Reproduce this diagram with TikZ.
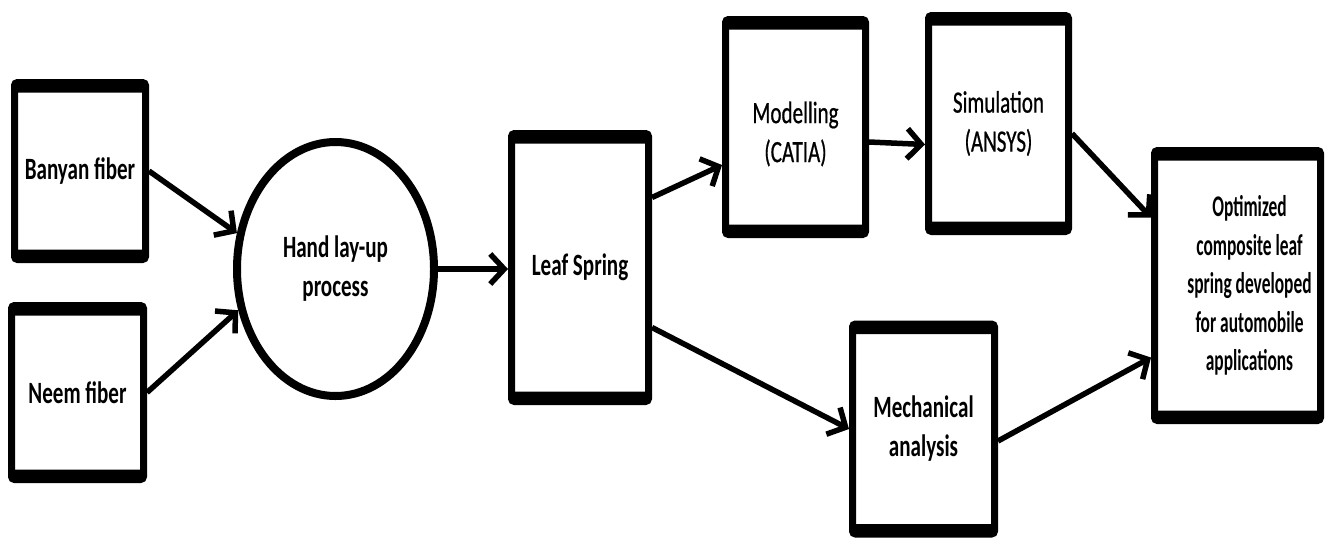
\documentclass[tikz,border=0pt]{standalone}
\usepackage{fontspec}
\setmainfont{Carlito}[FakeStretch=0.68]
\newfontfamily\medfont{Carlito}[FakeStretch=0.68, FakeBold=0.6]
\newfontfamily\narrowfont{Carlito}[FakeStretch=0.58]
\usetikzlibrary{arrows.meta,calc,shapes.geometric}

\newcommand{\bigtxt}{\fontsize{31}{39}\selectfont}
\newcommand{\outtxt}{\fontsize{30}{38.5}\selectfont}

\begin{document}
\begin{tikzpicture}[x=1pt,y=-1pt,
  every node/.style={align=center, inner sep=0pt},
  stepbox/.style={rectangle, draw=black, fill=white, line width=7pt,
    rounded corners=3pt,
    path picture={
      \fill[black] (path picture bounding box.north west)
        rectangle ([yshift=-10pt]path picture bounding box.north east);
      \fill[black] (path picture bounding box.south west)
        rectangle ([yshift=10pt]path picture bounding box.south east);
    }},
  roundstep/.style={ellipse, draw=black, fill=white, line width=8pt},
  conn/.style={line width=5.5pt,
    -{Straight Barb[length=14pt,width=30pt]}},
]
% canvas
\fill[white] (0,0) rectangle (1325,539);
\useasboundingbox (0,0) rectangle (1325,539);

% raw fibres
\node[stepbox, minimum width=131pt, minimum height=177pt, font=\bigtxt\bfseries]
  (ban) at (80,171) {Banyan fiber};
\node[stepbox, minimum width=132pt, minimum height=174pt, font=\bigtxt\bfseries]
  (neem) at (77.5,392.5) {Neem fiber};

% fabrication
\node[roundstep, minimum width=197pt, minimum height=254pt, font=\bigtxt\bfseries]
  (hand) at (335.5,269) {Hand lay-up\\process};
\node[stepbox, minimum width=137pt, minimum height=268pt, font=\bigtxt\bfseries]
  (leaf) at (580,267.5) {Leaf Spring};

% numerical branch
\node[stepbox, minimum width=140pt, minimum height=215pt] (mod) at (795.5,127) {};
\node[font=\medfont\bigtxt] (modtxt) at ($(mod.center)+(0,7)$) {Modelling\\(CATIA)};
\node[stepbox, minimum width=140pt, minimum height=216pt, font=\medfont\bigtxt]
  (sim) at (998.5,123.5) {Simulation\\(ANSYS)};

% experimental branch
\node[stepbox, minimum width=142pt, minimum height=210pt, font=\bigtxt\bfseries]
  (mech) at (923.5,429) {Mechanical\\analysis};

% outcome
\node[stepbox, minimum width=166pt, minimum height=270pt] (opt) at (1237.5,285.5) {};
\node[font=\narrowfont\outtxt\bfseries] (opttxt) at ($(opt.center)+(12,0)$)
  {Optimized\\composite leaf\\spring developed\\for automobile\\applications};

% connectors
\draw[conn] (ban.east) -- (hand.160);
\draw[conn] (neem.east) -- (hand.203);
\draw[conn] (hand.east) -- (hand.east -| leaf.west);
\draw[conn] ($(leaf.east)+(0,-70)$) -- ($(mod.west)+(0,38)$);
\draw[conn] ($(mod.east)+(0,15)$) -- ($(sim.west)+(0,21)$);
\draw[conn] ($(sim.east)+(0,10)$) -- ($(opt.west)+(0,-68)$);
\draw[conn] ($(leaf.east)+(0,60)$) -- (mech.west);
\draw[conn] ($(mech.east)+(0,12)$) -- ($(opt.west)+(0,72)$);
\end{tikzpicture}
\end{document}
